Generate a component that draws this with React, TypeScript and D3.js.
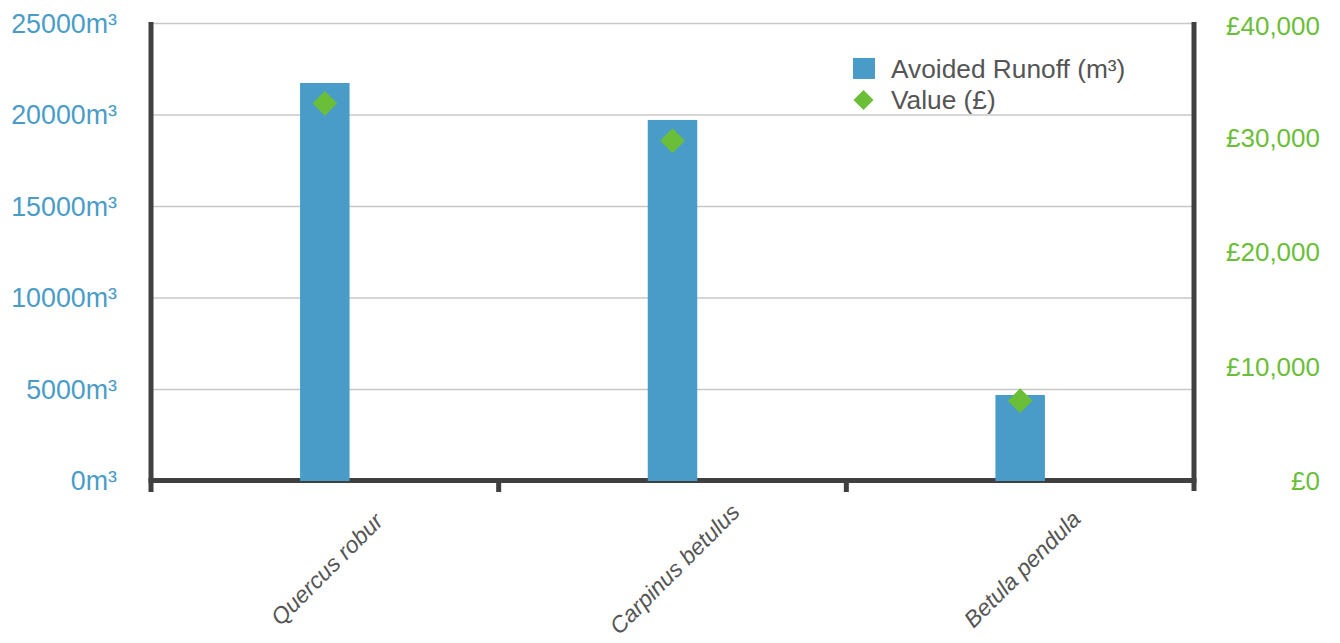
import React from "react";
import * as d3 from "d3";

// Species and their measured values
const categories: string[] = ["Quercus robur", "Carpinus betulus", "Betula pendula"];
const runoffM3: number[] = [21750, 19730, 4700];
const valueGBP: number[] = [33020, 29750, 7020];

const runoffTicks: number[] = [0, 5000, 10000, 15000, 20000, 25000];
const valueTicks: number[] = [0, 10000, 20000, 30000, 40000];

const legendLabels: string[] = ["Avoided Runoff (m³)", "Value (£)"];

const W = 1340;
const H = 643;
const FONT = "'Liberation Sans', Arial, Helvetica, sans-serif";
const BLUE = "#4a9cc8";
const GREEN = "#6bbe38";
const AXIS = "#404040";
const GRID = "#c8c8c8";
const TEXT = "#555555";

export default function App() {
  const left = 151;
  const right = 1194;
  const top = 23.5;
  const bottom = 481;

  const x = d3.scaleBand<string>().domain(categories).range([left, right]).paddingInner(0).paddingOuter(0);
  const yLeft = d3.scaleLinear().domain([0, 25000]).range([bottom, top]);
  const yRight = d3.scaleLinear().domain([0, 40000]).range([bottom, top]);

  const barWidth = 49.5;
  const diamond = d3.symbol().type(d3.symbolSquare).size(306)();
  const legendDiamond = d3.symbol().type(d3.symbolSquare).size(200)();
  const gbp = (v: number) => "£" + d3.format(",")(v);

  const bandTicks = categories.slice(1).map((c) => x(c) as number);

  return (
    <svg
      width={W}
      height={H}
      style={{ position: "absolute", left: 0, top: 0, background: "#fff" }}
      fontFamily={FONT}
    >
      {/* horizontal gridlines from the runoff axis */}
      {runoffTicks.slice(1).map((t) => (
        <line key={t} x1={left} x2={right} y1={yLeft(t)} y2={yLeft(t)} stroke={GRID} strokeWidth={1.5} />
      ))}

      {/* axes */}
      <line x1={left} x2={left} y1={22} y2={492} stroke={AXIS} strokeWidth={5} />
      <line x1={right} x2={right} y1={22} y2={491} stroke={AXIS} strokeWidth={5} />
      <line x1={left - 2.5} x2={right + 2.5} y1={bottom - 0.5} y2={bottom - 0.5} stroke={AXIS} strokeWidth={5} />
      {bandTicks.map((tx, i) => (
        <line key={i} x1={tx} x2={tx} y1={bottom} y2={492} stroke={AXIS} strokeWidth={5} />
      ))}

      {/* bars */}
      {categories.map((c, i) => {
        const cx = (x(c) as number) + x.bandwidth() / 2;
        return (
          <rect
            key={c}
            x={cx - barWidth / 2}
            y={yLeft(runoffM3[i])}
            width={barWidth}
            height={bottom - yLeft(runoffM3[i])}
            fill={BLUE}
          />
        );
      })}

      {/* value markers */}
      {categories.map((c, i) => {
        const cx = (x(c) as number) + x.bandwidth() / 2;
        return (
          <path
            key={c}
            d={diamond as string}
            transform={`translate(${cx},${yRight(valueGBP[i])}) rotate(45)`}
            fill={GREEN}
          />
        );
      })}

      {/* left axis labels */}
      {runoffTicks.map((t) => (
        <text
          key={t}
          x={117}
          y={yLeft(t)}
          dy="0.35em"
          textAnchor="end"
          fontSize={26.8}
          fill={BLUE}
        >
          {t}m³
        </text>
      ))}

      {/* right axis labels */}
      {valueTicks.map((t) => (
        <text
          key={t}
          x={1320}
          y={t === 40000 ? yRight(t) + 2.5 : yRight(t)}
          dy="0.35em"
          textAnchor="end"
          fontSize={26}
          fill={GREEN}
        >
          {gbp(t)}
        </text>
      ))}

      {/* category labels */}
      {categories.map((c) => {
        const cx = (x(c) as number) + x.bandwidth() / 2 + 2;
        return (
          <text
            key={c}
            transform={`translate(${cx},569) rotate(-45)`}
            textAnchor="middle"
            dy="0.35em"
            fontSize={23}
            fontStyle="italic"
            fill={TEXT}
          >
            {c}
          </text>
        );
      })}

      {/* legend */}
      <g>
        <rect x={853} y={58} width={22} height={21} fill={BLUE} />
        <text x={891} y={77.7} fontSize={26.3} fill={TEXT}>
          {legendLabels[0]}
        </text>
        <path d={legendDiamond as string} transform="translate(863.5,100) rotate(45)" fill={GREEN} />
        <text x={891} y={108.7} fontSize={26.3} fill={TEXT}>
          {legendLabels[1]}
        </text>
      </g>
    </svg>
  );
}
